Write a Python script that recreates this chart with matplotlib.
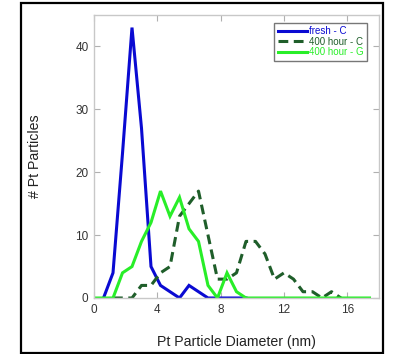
import matplotlib
matplotlib.use("Agg")
import matplotlib.pyplot as plt
from matplotlib.patches import Rectangle

plt.rcParams['font.family'] = ['Liberation Sans', 'DejaVu Sans']

# Particle-size histograms (counts per 0.6 nm bin)
fresh_c_d = [0.6, 1.2, 1.8, 2.4, 3.0, 3.6, 4.2, 4.8, 5.4, 6.0, 6.6, 7.2, 7.8, 8.4, 9.0, 9.6]
fresh_c_n = [0, 4, 23, 43, 27, 5, 2, 1, 0, 2, 1, 0, 0, 0, 0, 0]

h400_c_d = [1.2, 1.8, 2.4, 3.0, 3.6, 4.2, 4.8, 5.4, 6.0, 6.6, 7.2, 7.8, 8.4,
            9.0, 9.6, 10.2, 10.8, 11.4, 12.0, 12.6, 13.2, 13.8, 14.4, 15.0, 15.6]
h400_c_n = [0, 0, 0, 2, 2, 4, 5, 13, 15, 17, 10, 3, 3,
            4, 9, 9, 7, 3, 4, 3, 1, 1, 0, 1, 0]

h400_g_d = [0.0, 0.6, 1.2, 1.8, 2.4, 3.0, 3.6, 4.2, 4.8, 5.4, 6.0, 6.6, 7.2, 7.8, 8.4,
            9.0, 9.6, 10.2, 10.8, 11.4, 12.0, 12.6, 13.2, 13.8, 14.4, 15.0, 15.6,
            16.2, 16.8, 17.4]
h400_g_n = [0, 0, 0, 4, 5, 9, 12, 17, 13, 16, 11, 9, 2, 0, 4,
            1, 0, 0, 0, 0, 0, 0, 0, 0, 0, 0, 0,
            0, 0, 0]

series_labels = ['fresh - C', '400 hour - C', '400 hour - G']
x_ticks = [0, 4, 8, 12, 16]
y_ticks = [0, 10, 20, 30, 40]

W, H = 395, 354
fig = plt.figure(figsize=(W / 100, H / 100), dpi=100)
ax = fig.add_axes([94 / W, 1 - 298 / H, (379 - 94) / W, (298 - 15) / H])

c_blue = '#0a0ad2'
c_dark = '#1f5e2a'
c_light = '#28ee28'

ax.plot(fresh_c_d, fresh_c_n, color=c_blue, lw=2.2, label=series_labels[0],
        solid_joinstyle='miter')
ax.plot(h400_c_d, h400_c_n, color=c_dark, lw=2.2, dashes=(3.2, 1.8),
        label=series_labels[1])
ax.plot(h400_g_d, h400_g_n, color=c_light, lw=2.2, label=series_labels[2],
        solid_joinstyle='miter')

ax.set_xlim(0, 18)
ax.set_ylim(0, 45)
ax.set_xticks(x_ticks)
ax.set_yticks(y_ticks)
ax.tick_params(direction='in', length=4, width=0.8, color='#b0b0b0',
               labelsize=8.5, labelcolor='#333333', top=True, right=True, pad=4)
for s in ax.spines.values():
    s.set_color('#c8c8c8')
    s.set_linewidth(1.0)

ax.set_xlabel('Pt Particle Diameter (nm)', fontsize=10.2, color='#222222', labelpad=14)
ax.set_ylabel('# Pt Particles', fontsize=10.2, color='#222222', labelpad=24)

leg = ax.legend(loc='upper right', bbox_to_anchor=(1 - 12 / 285, 1 - 8 / 283),
                fontsize=7, frameon=True, fancybox=False, handlelength=3.0,
                handletextpad=0.2, borderpad=0.35, labelspacing=0.05,
                borderaxespad=0)
leg.get_frame().set_edgecolor('#555555')
leg.get_frame().set_linewidth(1.0)
for txt, col in zip(leg.get_texts(), [c_blue, c_dark, c_light]):
    txt.set_color(col)

# outer frame
fig.patches.append(Rectangle((21 / W, 1 - 352.5 / H), (382.5 - 21) / W, (352.5 - 3) / H,
                             transform=fig.transFigure, fill=False,
                             edgecolor='black', linewidth=1.6))

fig.savefig('out.png', dpi=100)
